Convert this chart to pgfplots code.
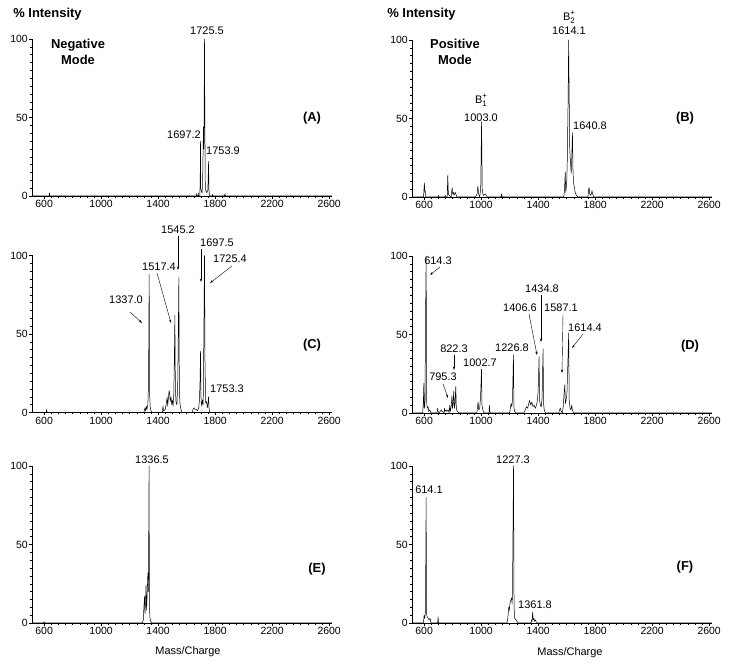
\documentclass[border=0pt]{standalone}
\usepackage{pgfplots}
\pgfplotsset{compat=1.18}
\usepackage{fontspec}
\setmainfont{Liberation Sans}
\usetikzlibrary{arrows.meta}
\pgfplotsset{spec/.style={
  scale only axis, width=300bp, height=157bp,
  xmin=515, xmax=2620, ymin=0, ymax=100,
  axis lines=left, axis line style={-, line width=0.6pt},
  xtick={600,1000,...,2600}, ytick={0,50,100},
  minor x tick num=7, minor y tick num=9,
  tick align=outside,
  major tick length=3bp, minor tick length=1.8bp,
  every tick/.style={line width=0.5pt, black},
  every minor tick/.style={line width=0.4pt, black},
  xticklabel style={font=\fontsize{10.5}{10.5}\selectfont, inner sep=1bp},
  yticklabel style={font=\fontsize{10.5}{10.5}\selectfont, inner sep=1bp},
  /pgf/number format/assume math mode=true,
  /pgf/number format/1000 sep={},
  clip=false,
  anchor=south west
}}
\tikzset{sp/.style={black, line width=0.5pt, mark=none, line join=round},
  lab/.style={font=\fontsize{11}{11}\selectfont, inner sep=0pt},
  bl/.style={font=\fontsize{13}{16}\selectfont\bfseries, inner sep=0pt, align=center},
  arr/.style={-{Stealth[length=3.5bp,width=2.2bp]}, line width=0.4pt}}
\newcommand{\Bion}[1]{B\rlap{\raisebox{0.85ex}{\fontsize{8}{8}\selectfont +}}\raisebox{-0.45ex}{\fontsize{8}{8}\selectfont #1}}
\begin{document}
\begin{tikzpicture}
\useasboundingbox (0,0) rectangle (729bp,664bp);
% (A)
\begin{axis}[spec, at={(32bp,468bp)}]
\addplot[sp] coordinates {(515,0)(560,0)(636,0)(638,2)(640,0)(1650,0)(1668,0)(1670,1.5)(1672,0)(1680,0)(1682,2)(1684,0)(1692,0)(1695,8)(1697.2,35)(1699,5)(1703,3)(1708,2)(1712,8)(1718,44)(1721,30)(1725.5,100)(1728,45)(1731,4)(1737,3)(1742,2)(1749,4)(1753.9,22)(1757,3)(1762,0)(1780,0)(1782,1)(1784,0)(1866,0)(1869,1.5)(1872,0)(2620,0)};
\end{axis}
% (B)
\begin{axis}[spec, at={(412bp,467bp)}]
\addplot[sp] coordinates {(515,0)(596,0)(599,5)(602,9)(605,3)(608,4)(612,0)(640,0)(700,0)(702,1)(704,0)(745,0)(748,1)(750,0)(762,0)(766,14)(770,2)(775,1)(790,0)(794,4)(797,6)(800,2)(805,3)(810,1)(818,3)(822,2)(830,0)(960,0)(972,2)(977,7)(982,2)(990,0)(997,5)(1003,48)(1008,4)(1015,1)(1028,2)(1035,1)(1045,0)(1140,0)(1143,2)(1146,0)(1580,0)(1585,4)(1590,16)(1594,3)(1600,8)(1605,25)(1610,60)(1614.1,100)(1618,62)(1622,30)(1627,22)(1632,15)(1636,25)(1640.8,41)(1645,15)(1650,8)(1655,6)(1660,3)(1668,1)(1680,0)(1750,0)(1754,5)(1758,6)(1762,2)(1770,1)(1778,4)(1782,2)(1790,0)(2620,0)};
\end{axis}
% (C)
\begin{axis}[spec, at={(32bp,251.5bp)}]
\addplot[sp] coordinates {(515,0)(615,0)(618,2)(621,0)(1300,0)(1308,3)(1312,1)(1318,4)(1322,2)(1328,5)(1333,20)(1337,88)(1341,10)(1345,3)(1350,1)(1360,0)(1430,0)(1434,4)(1438,1)(1450,2)(1458,6)(1463,10)(1467,4)(1472,9)(1477,14)(1481,12)(1485,7)(1490,10)(1496,5)(1500,8)(1505,4)(1510,12)(1514,35)(1517.4,62)(1521,15)(1526,6)(1532,5)(1538,20)(1542,55)(1545.2,86)(1549,15)(1553,6)(1560,2)(1568,0)(1640,0)(1645,2)(1652,3)(1660,2)(1668,2)(1675,1)(1685,3)(1690,8)(1694,20)(1697.5,39)(1701,8)(1706,4)(1711,8)(1716,5)(1720,40)(1725.4,100)(1729,30)(1734,6)(1740,7)(1745,3)(1750,6)(1753.3,10)(1757,3)(1762,0)(2620,0)};
\end{axis}
% (D)
\begin{axis}[spec, at={(412bp,251bp)}]
\addplot[sp] coordinates {(515,0)(590,0)(595,8)(598,19)(601,3)(606,5)(610,60)(614.3,100)(617,8)(622,3)(628,4)(632,1)(640,2)(648,0)(690,0)(695,3)(698,1)(705,0)(720,2)(725,1)(740,0)(743,3)(746,1)(755,2)(760,1)(770,2)(775,0)(780,5)(784,1)(790,4)(795.3,11)(799,3)(803,6)(808,14)(812,3)(816,5)(822.3,17)(826,3)(832,1)(845,0)(970,0)(975,4)(979,7)(983,2)(990,3)(996,10)(1002.7,28)(1006,5)(1012,2)(1020,0)(1055,0)(1058,5)(1061,1)(1066,0)(1200,0)(1205,3)(1210,6)(1215,4)(1220,8)(1226.8,37)(1230,4)(1235,1)(1245,0)(1300,0)(1310,2)(1318,4)(1326,3)(1334,6)(1340,8)(1348,5)(1356,7)(1364,4)(1372,5)(1380,3)(1388,5)(1395,8)(1400,14)(1406.6,36)(1410,8)(1416,5)(1422,4)(1428,10)(1434.8,41)(1438,6)(1443,2)(1450,0)(1545,0)(1550,2)(1556,3)(1562,1)(1570,0)(1576,4)(1582,12)(1587.1,18)(1591,6)(1596,8)(1602,12)(1608,30)(1614.4,51)(1618,8)(1624,3)(1630,2)(1636,5)(1640,2)(1648,0)(2620,0)};
\end{axis}
% (E)
\begin{axis}[spec, at={(32bp,41bp)}]
\addplot[sp] coordinates {(515,0)(598,0)(600,1)(602,0)(1290,0)(1296,2)(1300,10)(1305,17)(1308,6)(1312,14)(1315,24)(1319,8)(1323,18)(1328,32)(1332,20)(1336.5,100)(1339,10)(1343,3)(1348,1)(1355,0)(2620,0)};
\end{axis}
% (F)
\begin{axis}[spec, at={(412bp,41bp)}]
\addplot[sp] coordinates {(515,0)(595,0)(600,5)(604,3)(608,6)(611,30)(614.1,80)(617,6)(621,4)(628,3)(635,2)(642,3)(648,0)(695,0)(698,4)(701,0)(1180,0)(1186,2)(1190,6)(1194,10)(1198,8)(1202,12)(1206,14)(1210,15)(1214,16)(1218,12)(1222,40)(1227.3,100)(1231,10)(1236,3)(1245,2)(1252,1)(1260,0)(1350,0)(1354,2)(1357,1)(1361.8,7)(1365,2)(1370,3)(1375,1)(1382,2)(1388,0)(2620,0)};
\end{axis}
% headings
\node[bl] at (47.5bp,650bp) {\% Intensity};
\node[bl] at (421.5bp,650bp) {\% Intensity};
\node[bl] at (78bp,612.5bp) {Negative\\Mode};
\node[bl] at (455bp,612.5bp) {Positive\\Mode};
\node[bl] at (312bp,546bp) {(A)};
\node[bl] at (685bp,546bp) {(B)};
\node[bl] at (312bp,319bp) {(C)};
\node[bl] at (690bp,318bp) {(D)};
\node[bl] at (317bp,95bp) {(E)};
\node[bl] at (685bp,97bp) {(F)};
\node[lab] at (188bp,12bp) {Mass/Charge};
\node[lab] at (570bp,11bp) {Mass/Charge};
% A labels
\node[lab] at (207bp,633bp) {1725.5};
\node[lab] at (184bp,529bp) {1697.2};
\node[lab] at (223bp,513bp) {1753.9};
% B labels
\node[lab] at (569bp,647bp) {\Bion{2}};
\node[lab] at (569bp,633bp) {1614.1};
\node[lab] at (481bp,564bp) {\Bion{1}};
\node[lab] at (481bp,546bp) {1003.0};
\node[lab] at (590bp,538bp) {1640.8};
% C labels
\node[lab] at (178bp,434bp) {1545.2};
\node[lab] at (217bp,421bp) {1697.5};
\node[lab] at (230bp,405bp) {1725.4};
\node[lab] at (159bp,397bp) {1517.4};
\node[lab] at (126bp,364bp) {1337.0};
\node[lab] at (227bp,275bp) {1753.3};
\draw[arr] (130bp,352bp) -- (142bp,341bp);
\draw[arr] (157bp,391bp) -- (171bp,341bp);
\draw[arr] (178bp,428bp) -- (178bp,394bp);
\draw[arr] (201bp,415bp) -- (201bp,382bp);
\draw[arr] (232bp,398bp) -- (210bp,381bp);
% D labels
\node[lab] at (438bp,403bp) {614.3};
\draw[arr] (440bp,397bp) -- (430bp,389bp);
\node[lab] at (542bp,375bp) {1434.8};
\draw[arr] (541bp,369bp) -- (541bp,322bp);
\node[lab] at (520bp,356bp) {1406.6};
\draw[arr] (529bp,350bp) -- (537bp,309bp);
\node[lab] at (561bp,356bp) {1587.1};
\draw[arr] (563bp,350bp) -- (562bp,291bp);
\node[lab] at (585bp,336bp) {1614.4};
\draw[arr] (583bp,330bp) -- (572bp,316bp);
\node[lab] at (454bp,315bp) {822.3};
\draw[arr] (454bp,309bp) -- (454bp,294bp);
\node[lab] at (443bp,287bp) {795.3};
\draw[arr] (443bp,280bp) -- (448bp,266bp);
\node[lab] at (480bp,301bp) {1002.7};
\node[lab] at (512bp,316bp) {1226.8};
% E, F labels
\node[lab] at (152bp,204bp) {1336.5};
\node[lab] at (513bp,204bp) {1227.3};
\node[lab] at (429bp,174bp) {614.1};
\node[lab] at (535bp,59bp) {1361.8};
\end{tikzpicture}
\end{document}
